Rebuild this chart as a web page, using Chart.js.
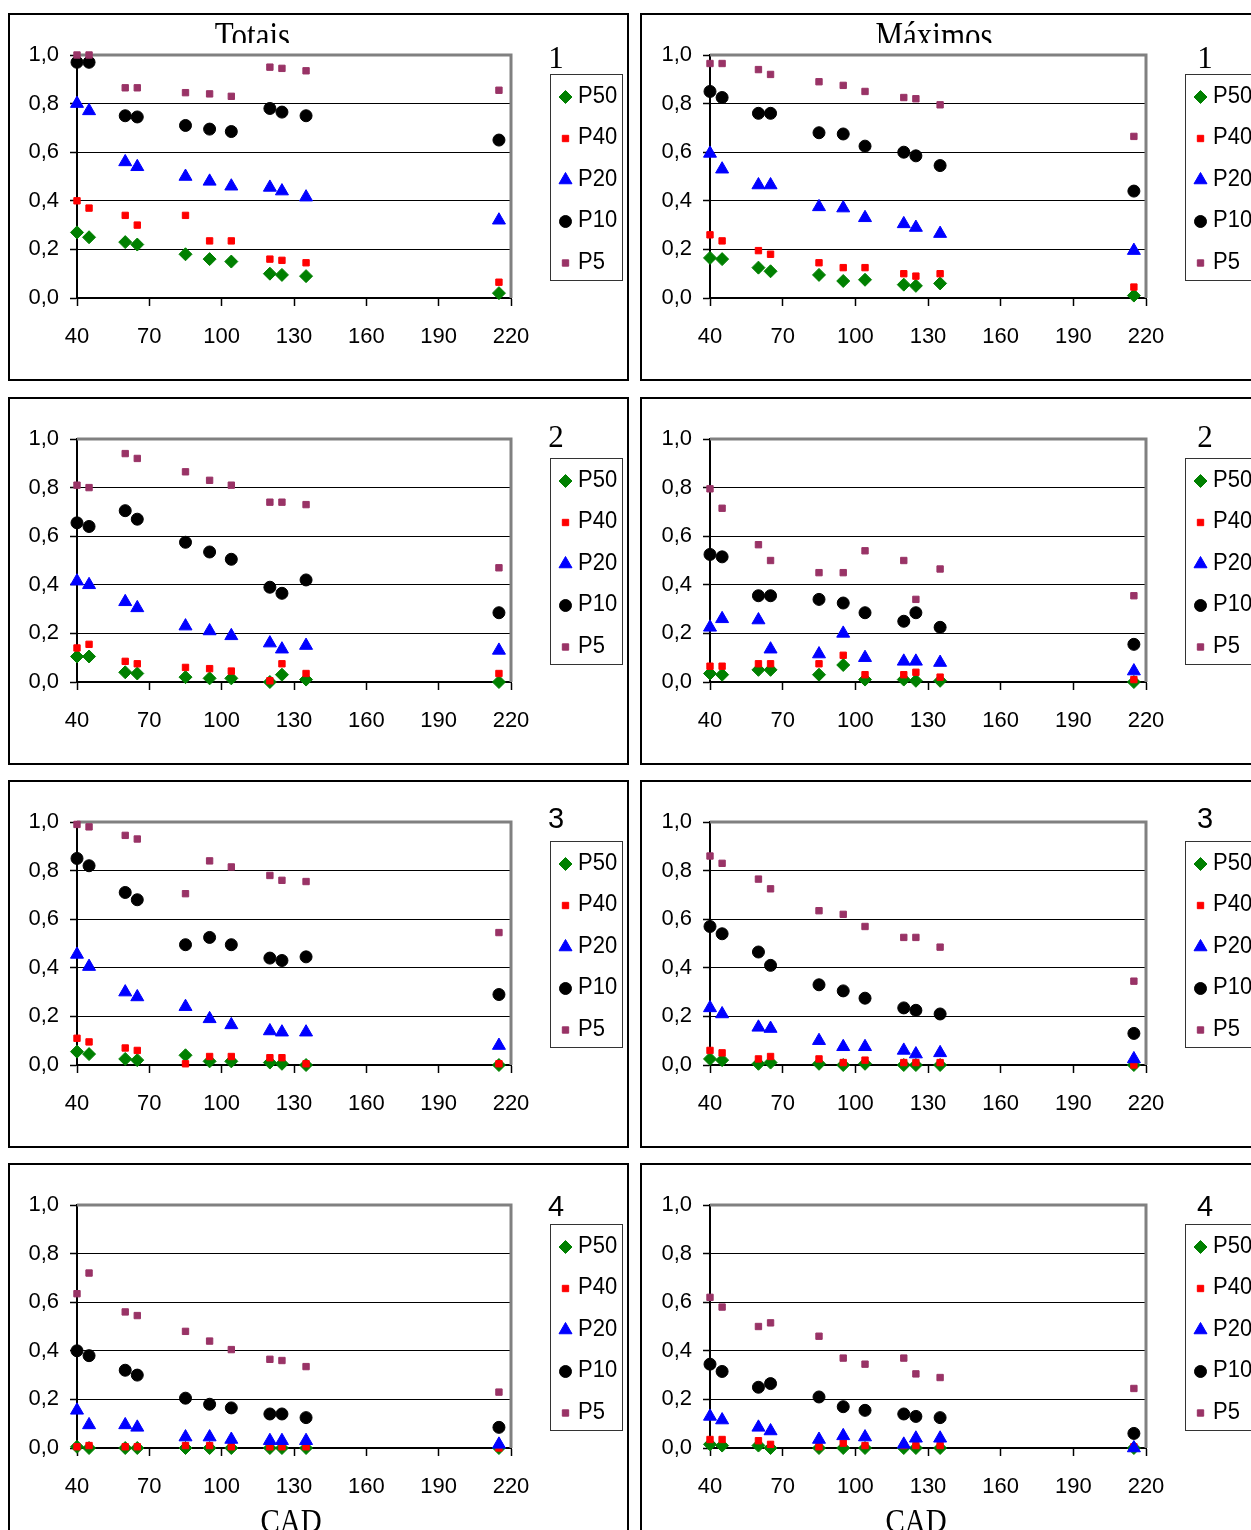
<!DOCTYPE html>
<html>
<head>
<meta charset="utf-8">
<script src="https://cdn.jsdelivr.net/npm/chart.js@4.4.1/dist/chart.umd.min.js"></script>
<style>
  body { margin: 0; width: 1251px; height: 1530px; overflow: hidden; background: #fff; position: relative; }
  .box { position: absolute; border: 2px solid #000; box-sizing: border-box; }
  canvas { position: absolute; }
</style>
</head>
<body>
<script>
// eixo x (CAD) e ticks
const cad = [40, 45, 60, 65, 85, 95, 104, 120, 125, 135, 215];
const xTicks = [40, 70, 100, 130, 160, 190, 220];
const yTicks = [0, 0.2, 0.4, 0.6, 0.8, 1.0];
const seriesNames = ['P50', 'P40', 'P20', 'P10', 'P5'];

// cada painel: linhas P50, P40, P20, P10, P5
const totais1 = [
  [0.27, 0.25, 0.23, 0.22, 0.18, 0.16, 0.15, 0.10, 0.095, 0.09, 0.02],
  [0.40, 0.37, 0.34, 0.30, 0.34, 0.235, 0.235, 0.16, 0.155, 0.145, 0.065],
  [0.80, 0.77, 0.56, 0.54, 0.50, 0.48, 0.46, 0.455, 0.44, 0.415, 0.32],
  [0.97, 0.97, 0.75, 0.745, 0.71, 0.695, 0.685, 0.78, 0.765, 0.75, 0.65],
  [1.0, 1.0, 0.865, 0.865, 0.845, 0.84, 0.83, 0.95, 0.945, 0.935, 0.855]
];
const maximos1 = [
  [0.165, 0.16, 0.125, 0.11, 0.095, 0.07, 0.075, 0.055, 0.05, 0.06, 0.01],
  [0.26, 0.235, 0.195, 0.18, 0.145, 0.125, 0.125, 0.10, 0.09, 0.10, 0.045],
  [0.595, 0.53, 0.465, 0.465, 0.375, 0.37, 0.33, 0.305, 0.29, 0.265, 0.195],
  [0.85, 0.825, 0.76, 0.76, 0.68, 0.675, 0.625, 0.60, 0.585, 0.545, 0.44],
  [0.965, 0.965, 0.94, 0.92, 0.89, 0.875, 0.85, 0.825, 0.82, 0.795, 0.665]
];
const totais2 = [
  [0.105, 0.105, 0.04, 0.035, 0.02, 0.015, 0.015, 0.0, 0.03, 0.01, 0.0],
  [0.14, 0.155, 0.085, 0.075, 0.06, 0.055, 0.045, 0.005, 0.075, 0.035, 0.035],
  [0.415, 0.40, 0.33, 0.305, 0.23, 0.21, 0.19, 0.16, 0.135, 0.15, 0.13],
  [0.655, 0.64, 0.705, 0.67, 0.575, 0.535, 0.505, 0.39, 0.365, 0.42, 0.285],
  [0.81, 0.80, 0.94, 0.92, 0.865, 0.83, 0.81, 0.74, 0.74, 0.73, 0.47]
];
const maximos2 = [
  [0.035, 0.03, 0.05, 0.05, 0.03, 0.07, 0.01, 0.01, 0.005, 0.005, 0.0],
  [0.065, 0.065, 0.075, 0.075, 0.075, 0.11, 0.03, 0.03, 0.04, 0.02, 0.01],
  [0.225, 0.26, 0.255, 0.135, 0.115, 0.20, 0.10, 0.085, 0.085, 0.08, 0.045],
  [0.525, 0.515, 0.355, 0.355, 0.34, 0.325, 0.285, 0.25, 0.285, 0.225, 0.155],
  [0.795, 0.715, 0.565, 0.50, 0.45, 0.45, 0.54, 0.50, 0.34, 0.465, 0.355]
];
const totais3 = [
  [0.055, 0.045, 0.025, 0.02, 0.04, 0.015, 0.015, 0.01, 0.005, 0.0, 0.0],
  [0.11, 0.095, 0.07, 0.06, 0.005, 0.035, 0.035, 0.03, 0.03, 0.005, 0.005],
  [0.455, 0.405, 0.30, 0.28, 0.24, 0.19, 0.165, 0.14, 0.135, 0.135, 0.08],
  [0.85, 0.82, 0.71, 0.68, 0.495, 0.525, 0.495, 0.44, 0.43, 0.445, 0.29],
  [0.99, 0.98, 0.945, 0.93, 0.705, 0.84, 0.815, 0.78, 0.76, 0.755, 0.545]
];
const maximos3 = [
  [0.025, 0.02, 0.005, 0.01, 0.005, 0.0, 0.005, 0.0, 0.0, 0.0, 0.0],
  [0.06, 0.05, 0.025, 0.035, 0.025, 0.01, 0.02, 0.01, 0.01, 0.01, 0.0],
  [0.235, 0.21, 0.155, 0.15, 0.10, 0.075, 0.075, 0.06, 0.045, 0.05, 0.025],
  [0.57, 0.54, 0.465, 0.41, 0.33, 0.305, 0.275, 0.235, 0.225, 0.21, 0.13],
  [0.86, 0.83, 0.765, 0.725, 0.635, 0.62, 0.57, 0.525, 0.525, 0.485, 0.345]
];
const totais4 = [
  [0.005, 0.0, 0.0, 0.0, 0.0, 0.0, 0.0, 0.0, 0.0, 0.0, 0.0],
  [0.005, 0.01, 0.005, 0.005, 0.01, 0.01, 0.005, 0.005, 0.005, 0.005, 0.0],
  [0.155, 0.095, 0.095, 0.085, 0.045, 0.045, 0.035, 0.03, 0.03, 0.03, 0.015],
  [0.40, 0.38, 0.32, 0.30, 0.205, 0.18, 0.165, 0.14, 0.14, 0.125, 0.085],
  [0.635, 0.72, 0.56, 0.545, 0.48, 0.44, 0.405, 0.365, 0.36, 0.335, 0.23]
];
const maximos4 = [
  [0.015, 0.01, 0.01, 0.0, 0.0, 0.0, 0.0, 0.0, 0.0, 0.0, 0.0],
  [0.035, 0.035, 0.03, 0.015, 0.005, 0.02, 0.01, 0.01, 0.01, 0.01, 0.005],
  [0.13, 0.115, 0.085, 0.07, 0.035, 0.05, 0.045, 0.015, 0.04, 0.04, 0.0],
  [0.345, 0.315, 0.25, 0.265, 0.21, 0.17, 0.155, 0.14, 0.13, 0.125, 0.06],
  [0.62, 0.58, 0.50, 0.515, 0.46, 0.37, 0.345, 0.37, 0.305, 0.29, 0.245]
];

// estilo dos marcadores (estilo Excel)
const colors = ['#008000', '#ff0000', '#0000ff', '#000000', '#993366'];
const shapes = ['rectRot', 'rect', 'triangle', 'circle', 'rect'];
const radii = [7, 5, 8, 6.5, 5];

const panels = [
  { rows: totais1, col: 0, row: 0, title: 'Totais', num: '1', serif: true },
  { rows: maximos1, col: 1, row: 0, title: 'Máximos', num: '1', serif: true },
  { rows: totais2, col: 0, row: 1, num: '2', serif: true },
  { rows: maximos2, col: 1, row: 1, num: '2', serif: true },
  { rows: totais3, col: 0, row: 2, num: '3' },
  { rows: maximos3, col: 1, row: 2, num: '3' },
  { rows: totais4, col: 0, row: 3, num: '4', cad: true },
  { rows: maximos4, col: 1, row: 3, num: '4', cad: true }
];

const rowTops = [14, 398, 781, 1164];
const numBase = [54, 49, 47, 52];
const L = [
  { left: 9, width: 618, plotRight: 502, legLeft: 541, numX: 547, titleX: 243.5, cadX: 282, boxLeft: 8, boxW: 621 },
  { left: 642, width: 609, plotRight: 504, legLeft: 543, numX: 563, titleX: 292, cadX: 274, boxLeft: 640, boxW: 700 }
];
const H = 367, PLOT_TOP = 41, PLOT_H = 243, X_AXIS_H = 50;
const SANS = "'Liberation Sans', Arial, sans-serif";
const SERIF = "'Liberation Serif', 'Times New Roman', serif";

Chart.defaults.font.family = SANS;
Chart.defaults.font.size = 22;
Chart.defaults.color = '#000';

function stretchText(ctx, txt, x, y, font, sy, align) {
  ctx.save();
  ctx.font = font;
  ctx.fillStyle = '#000';
  ctx.textAlign = align || 'center';
  ctx.textBaseline = 'alphabetic';
  ctx.translate(x, y);
  ctx.scale(1, sy);
  ctx.fillText(txt, 0, 0);
  ctx.restore();
}

function marker(ctx, i, x, y) {
  ctx.save();
  ctx.fillStyle = colors[i];
  ctx.strokeStyle = colors[i];
  ctx.lineWidth = 1;
  Chart.helpers.drawPoint(ctx, { pointStyle: shapes[i], radius: radii[i] - 0.5, borderWidth: 1, rotation: 0 }, x, y);
  ctx.restore();
}

const deco = {
  id: 'deco',
  beforeDatasetsDraw(chart) {
    // borda cinza da área de plotagem (topo e direita)
    const { ctx, chartArea: a } = chart;
    ctx.save();
    ctx.strokeStyle = '#808080';
    ctx.lineWidth = 3;
    ctx.beginPath();
    ctx.moveTo(a.left, a.top);
    ctx.lineTo(a.right, a.top);
    ctx.lineTo(a.right, a.bottom);
    ctx.stroke();
    ctx.restore();
  },
  afterDraw(chart, args, o) {
    const ctx = chart.ctx;
    // legenda com caixa
    const lx = o.legLeft, ly = 60;
    ctx.save();
    ctx.strokeStyle = '#333';
    ctx.lineWidth = 1;
    ctx.strokeRect(lx + 0.5, ly + 0.5, 72, 206);
    ctx.restore();
    seriesNames.forEach((name, i) => {
      marker(ctx, i, lx + 15.5, ly + 23 + i * 41.5);
      stretchText(ctx, name, lx + 28, ly + 20 + i * 41.5 + 8.6, '22px ' + SANS, 1.1, 'left');
    });
    // número do painel
    const numFont = o.serif ? '31px ' + SERIF : '29px ' + SANS;
    stretchText(ctx, o.num, o.numX, o.numBase, numFont, 1, 'center');
    // título cortado em baixo
    if (o.title) {
      ctx.save();
      ctx.beginPath();
      ctx.rect(0, 0, chart.width, 29);
      ctx.clip();
      stretchText(ctx, o.title, o.titleX, 33.6, '31px ' + SERIF, 1.2, 'center');
      ctx.restore();
    }
    if (o.cad) {
      stretchText(ctx, 'CAD', o.cadX, 367.5, '29px ' + SERIF, 1.15, 'center');
    }
  }
};

panels.forEach(p => {
  const g = L[p.col];
  const top = rowTops[p.row];

  const box = document.createElement('div');
  box.className = 'box';
  box.style.left = g.boxLeft + 'px';
  box.style.top = (top - 1) + 'px';
  box.style.width = g.boxW + 'px';
  box.style.height = (p.row === 3 ? 420 : 368) + 'px';
  document.body.appendChild(box);

  const cv = document.createElement('canvas');
  cv.width = g.width;
  cv.height = H;
  cv.style.left = g.left + 'px';
  cv.style.top = top + 'px';
  cv.style.width = g.width + 'px';
  cv.style.height = H + 'px';
  document.body.appendChild(cv);

  const datasets = p.rows.map((vals, i) => ({
    label: seriesNames[i],
    data: cad.map((x, j) => ({ x: x, y: vals[j] })),
    pointStyle: shapes[i],
    pointRadius: radii[i] - 0.5,
    pointBackgroundColor: colors[i],
    pointBorderColor: colors[i],
    pointBorderWidth: 1,
    showLine: false,
    clip: false,
    order: p.rows.length - i   // P5 por cima, como no Excel
  }));

  new Chart(cv.getContext('2d'), {
    type: 'scatter',
    data: { datasets: datasets },
    plugins: [deco],
    options: {
      responsive: false,
      animation: false,
      events: [],
      layout: {
        padding: { left: 0, top: PLOT_TOP, right: g.width - g.plotRight, bottom: H - PLOT_TOP - PLOT_H - X_AXIS_H }
      },
      plugins: {
        legend: { display: false },
        tooltip: { enabled: false },
        deco: {
          legLeft: g.legLeft, numX: g.numX, numBase: numBase[p.row], num: p.num, serif: !!p.serif,
          title: p.title, titleX: g.titleX, cad: !!p.cad, cadX: g.cadX
        }
      },
      scales: {
        x: {
          type: 'linear', min: 40, max: 220,
          afterBuildTicks: s => { s.ticks = xTicks.map(v => ({ value: v })); },
          afterFit: s => { s.height = X_AXIS_H; },
          grid: { drawOnChartArea: false, tickLength: 8, tickColor: '#000', tickWidth: 1.5 },
          border: { color: '#000', width: 2 },
          ticks: { padding: 18, maxRotation: 0, autoSkip: false }
        },
        y: {
          type: 'linear', min: 0, max: 1,
          afterBuildTicks: s => { s.ticks = yTicks.map(v => ({ value: v })); },
          afterFit: s => { s.width = 68; },
          grid: {
            color: c => (c.tick && c.tick.value > 0.99) ? 'rgba(0,0,0,0)' : '#000',
            lineWidth: 1, tickLength: 7, tickColor: '#000', tickWidth: 1.5
          },
          border: { color: '#000', width: 2 },
          ticks: { padding: 11, autoSkip: false, callback: v => v.toFixed(1).replace('.', ',') }
        }
      }
    }
  });
});
</script>
</body>
</html>
